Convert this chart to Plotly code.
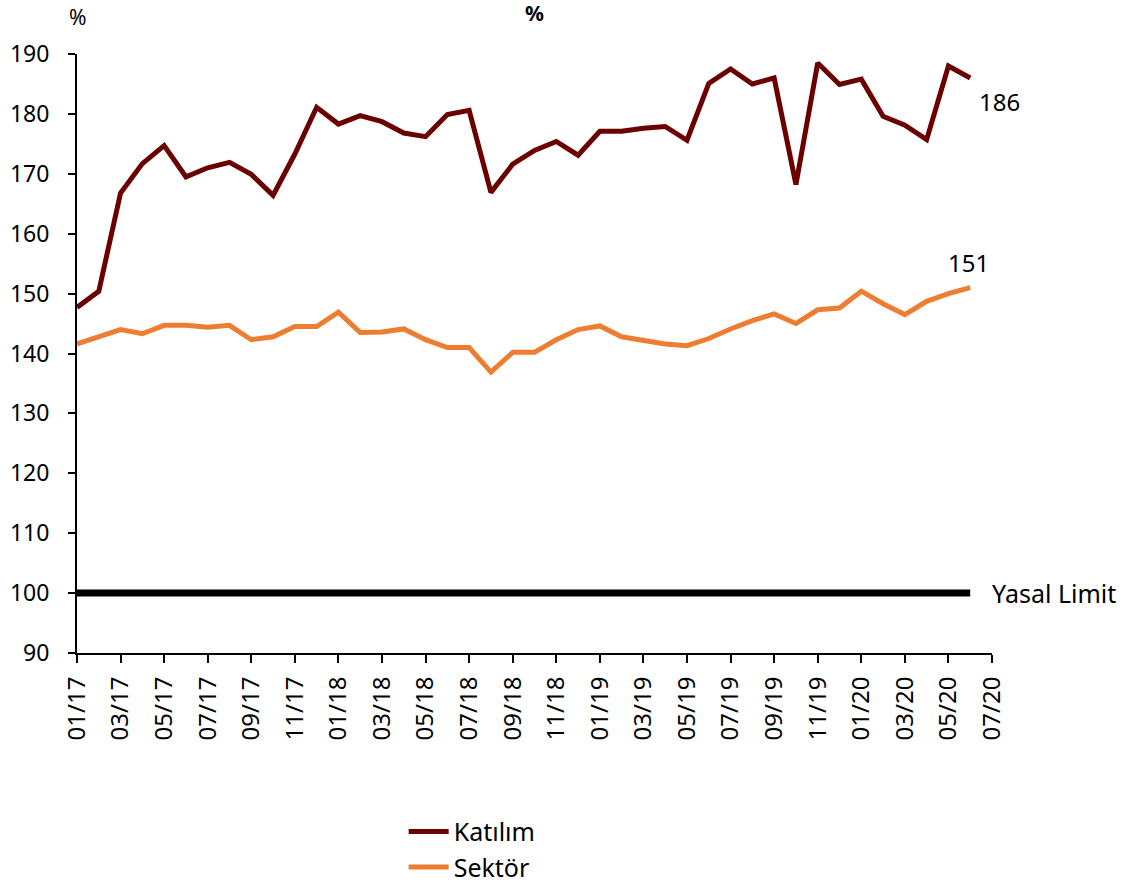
import plotly.graph_objects as go

months = ["01/17","02/17","03/17","04/17","05/17","06/17","07/17","08/17","09/17","10/17","11/17","12/17",
          "01/18","02/18","03/18","04/18","05/18","06/18","07/18","08/18","09/18","10/18","11/18","12/18",
          "01/19","02/19","03/19","04/19","05/19","06/19","07/19","08/19","09/19","10/19","11/19","12/19",
          "01/20","02/20","03/20","04/20","05/20","06/20"]

katilim = [147.7, 150.4, 166.8, 171.7, 174.7, 169.5, 171.0, 171.9, 169.9, 166.4, 173.3, 181.1,
           178.3, 179.7, 178.7, 176.8, 176.2, 179.9, 180.6, 166.9, 171.6, 173.9, 175.4, 173.1,
           177.1, 177.1, 177.6, 177.9, 175.6, 185.1, 187.5, 185.0, 186.0, 168.2, 188.5, 184.9,
           185.8, 179.6, 178.1, 175.7, 188.0, 186.0]

sektor = [141.6, 142.7, 144.0, 143.3, 144.7, 144.7, 144.4, 144.7, 142.3, 142.8, 144.5, 144.5,
          146.9, 143.5, 143.6, 144.1, 142.3, 141.0, 141.0, 136.9, 140.2, 140.2, 142.3, 144.0,
          144.6, 142.8, 142.2, 141.6, 141.3, 142.5, 144.1, 145.5, 146.6, 145.0, 147.3, 147.6,
          150.4, 148.3, 146.5, 148.7, 150.0, 151.0]

yasal_limit = [100] * len(months)

tick_labels = ["01/17","03/17","05/17","07/17","09/17","11/17","01/18","03/18","05/18","07/18","09/18","11/18",
               "01/19","03/19","05/19","07/19","09/19","11/19","01/20","03/20","05/20","07/20"]

FONT = "Noto Sans"
x_idx = list(range(len(months)))
tick_vals = [2 * i for i in range(len(tick_labels))]

fig = go.Figure()
fig.add_trace(go.Scatter(x=x_idx, y=katilim, mode="lines", name="Katılım",
                         line=dict(color="#6B0000", width=5)))
fig.add_trace(go.Scatter(x=x_idx, y=sektor, mode="lines", name="Sektör",
                         line=dict(color="#ED7D31", width=5)))
fig.add_trace(go.Scatter(x=x_idx, y=yasal_limit, mode="lines", name="Yasal Limit",
                         line=dict(color="#000000", width=7), showlegend=False))

fig.add_annotation(x=x_idx[-1], y=katilim[-1], xref="x", yref="y", text=f"{round(katilim[-1])}",
                   showarrow=False, xanchor="left", yanchor="middle", xshift=7, yshift=-24,
                   font=dict(family=FONT, size=24, color="black"))
fig.add_annotation(x=x_idx[-1], y=sektor[-1], xref="x", yref="y", text=f"{round(sektor[-1])}",
                   showarrow=False, xanchor="center", yanchor="middle", xshift=-2, yshift=25,
                   font=dict(family=FONT, size=24, color="black"))
fig.add_annotation(x=x_idx[-1], y=yasal_limit[-1], xref="x", yref="y", text="Yasal Limit",
                   showarrow=False, xanchor="left", yanchor="middle", xshift=20, yshift=0,
                   font=dict(family=FONT, size=25, color="black"))
fig.add_annotation(x=0, y=1.061, xref="paper", yref="paper", text="%",
                   showarrow=False, xanchor="center", yanchor="middle",
                   font=dict(family=FONT, size=21, color="black"))
fig.add_annotation(x=0.5, y=1.069, xref="paper", yref="paper", text="<b>%</b>",
                   showarrow=False, xanchor="center", yanchor="middle",
                   font=dict(family=FONT, size=21, color="black"))

fig.update_layout(
    width=1124, height=886, autosize=False,
    margin=dict(l=77, r=132, t=54, b=233, autoexpand=False),
    paper_bgcolor="white", plot_bgcolor="white",
    font=dict(family=FONT, size=22, color="black"),
    showlegend=True,
    legend=dict(orientation="v", x=0.357, y=-0.26, xanchor="left", yanchor="top",
                font=dict(family=FONT, size=25, color="black"), bgcolor="rgba(0,0,0,0)",
                itemwidth=40, tracegroupgap=0),
)
fig.update_xaxes(range=[0, 42], tickmode="array", tickvals=tick_vals, ticktext=tick_labels,
                 tickangle=-90, showgrid=False, zeroline=False, showline=True, linecolor="black",
                 linewidth=2, ticks="outside", ticklen=8, tickwidth=2, tickcolor="black",
                 automargin=False, ticklabelstandoff=4,
                 tickfont=dict(family=FONT, size=24, color="black"))
fig.update_yaxes(range=[90, 190], tickmode="array", tickvals=list(range(90, 191, 10)),
                 showgrid=False, zeroline=False, showline=True, linecolor="black",
                 linewidth=2, ticks="outside", ticklen=7, tickwidth=2, tickcolor="black",
                 ticklabelstandoff=14, automargin=False,
                 tickfont=dict(family=FONT, size=23, color="black"))

fig.write_html("out.html", config={"displayModeBar": False},
               post_script="document.body.style.margin='0';document.body.style.padding='0';")
